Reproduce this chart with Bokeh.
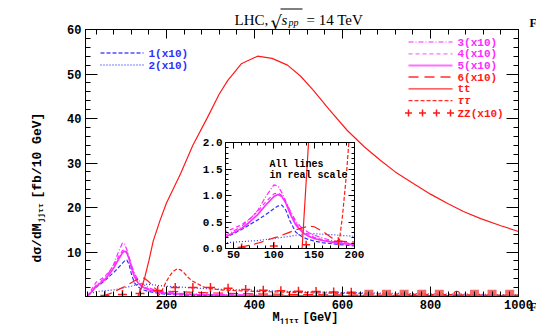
import math
import numpy as np
from bokeh.plotting import figure
from bokeh.models import Range1d, LinearAxis, FixedTicker, NumeralTickFormatter
from bokeh.layouts import column
from bokeh.embed import file_html
from bokeh.resources import INLINE
from bokeh.core.properties import value

# ---------------- data (real scale) ----------------
x_lo = [20, 40, 50, 60, 70, 80, 90, 100, 105, 110, 115, 120, 127, 135, 143, 150, 160, 172, 180,
        200, 250, 300, 400, 500, 600, 800, 1000]
s1 = [0, 0.21, 0.28, 0.36, 0.45, 0.54, 0.64, 0.75, 0.80, 0.82, 0.72, 0.52, 0.31, 0.22, 0.17, 0.14,
      0.11, 0.09, 0.075, 0.05, 0.03, 0.02, 0.012, 0.008, 0.005, 0.003, 0.002]
s2 = [0.04, 0.11, 0.12, 0.13, 0.14, 0.15, 0.17, 0.19, 0.20, 0.21, 0.22, 0.23, 0.25, 0.27, 0.28, 0.28,
      0.27, 0.26, 0.25, 0.23, 0.20, 0.17, 0.14, 0.11, 0.09, 0.06, 0.04]
s3 = [0, 0.25, 0.33, 0.42, 0.55, 0.72, 0.98, 1.20, 1.18, 1.05, 0.88, 0.72, 0.52, 0.38, 0.30, 0.25,
      0.20, 0.15, 0.12, 0.09, 0.06, 0.045, 0.03, 0.02, 0.015, 0.01, 0.006]
s4 = [0, 0.32, 0.38, 0.45, 0.56, 0.70, 0.88, 1.03, 1.05, 1.00, 0.88, 0.70, 0.48, 0.34, 0.26, 0.21,
      0.17, 0.13, 0.11, 0.08, 0.05, 0.04, 0.025, 0.018, 0.013, 0.008, 0.005]
s5 = [0, 0.22, 0.30, 0.38, 0.50, 0.64, 0.82, 0.98, 1.02, 0.98, 0.85, 0.66, 0.45, 0.31, 0.23, 0.19,
      0.15, 0.12, 0.10, 0.07, 0.045, 0.035, 0.022, 0.015, 0.011, 0.007, 0.004]
s6 = [0, 0, 0, 0.03, 0.06, 0.10, 0.15, 0.20, 0.22, 0.25, 0.28, 0.31, 0.35, 0.39, 0.42, 0.41,
      0.33, 0.20, 0.14, 0.12, 0.10, 0.08, 0.06, 0.045, 0.035, 0.02, 0.012]

x_tt = [135, 143, 150, 160, 170, 185, 200, 232, 260, 293, 320, 339, 370, 407, 440, 475, 505, 534,
        570, 611, 650, 686, 720, 761, 800, 839, 875, 914, 960, 1000]
tt = [0, 2, 4, 8, 12.5, 17, 21, 27.6, 34, 40.2, 45.5, 48.5, 52.3, 54, 53.5, 52, 49.5, 46.3,
      42, 37.3, 33.6, 30.6, 28, 25.4, 23, 20.9, 19.1, 17.5, 15.9, 14.6]

x_tau = [180, 185, 190, 195, 200, 207, 215, 224, 232, 240, 250, 260, 270, 285, 320, 360, 400, 500,
         600, 700, 800, 900, 1000]
tau = [0, 0.6, 1.4, 2.4, 3.4, 4.6, 5.6, 6.2, 6.0, 5.3, 4.2, 3.4, 2.9, 2.1, 1.5, 1.3, 1.15, 0.9,
       0.7, 0.55, 0.45, 0.35, 0.3]

x_zz = [60, 100, 140, 180, 220, 260, 300, 340, 380, 420, 460, 500, 540, 580, 620]
zz = [0.02, 0.045, 0.07, 0.135, 0.2, 0.2, 0.2, 0.185, 0.16, 0.14, 0.13, 0.12, 0.11, 0.10, 0.095]
x_zz_sq = [660, 700, 740, 780, 820, 900, 940, 980]
zz_sq = [0.05, 0.05, 0.05, 0.05, 0.05, 0.05, 0.05, 0.05]
x_zz_o = [860]
zz_o = [0.05]

scale10 = 10  # the "(x10)" series are drawn ten times larger in the main panel

main_x_ticks = [200, 400, 600, 800, 1000]
main_y_ticks = [10, 20, 30, 40, 50, 60]
inset_x_ticks = [50, 100, 150, 200]
inset_y_ticks = [0, 0.5, 1.0, 1.5, 2.0]

legend_left = [("1(x10)", "4 2", 1.3, "bold"), ("2(x10)", "1 2", 1.3, "bold")]
legend_mag = [("3(x10)", "5 2 1 2", 1.3, "bold"), ("4(x10)", "4 3", 1.3, "bold"),
              ("5(x10)", "solid", 2.0, "bold")]
legend_red = [("6(x10)", "10 6", 1.3, "bold"), ("tt", "solid", 1.3, "bold"),
              ("ττ", "4 2", 1.3, "bold italic")]

# ---------------- style ----------------
BLUE = "#3030ff"
MAG = "#ff2aff"
RED = "#ff1a1a"
BLUE_L = "#5050ff"
MAG_L = "#ff70ff"
RED_L = "#ff3030"
MONO = "Liberation Mono"
SERIF = "Liberation Serif"

W, H = 536, 324
L, R, T, B = 85, 518, 29, 296
X0, X1, Y0, Y1 = 16, 1000, 0, 60

p = figure(width=W, height=H, x_range=Range1d(X0, X1), y_range=Range1d(Y0, Y1),
           output_backend="svg", toolbar_location=None, title=None,
           min_border_left=L, min_border_right=W - R, min_border_top=T, min_border_bottom=H - B)
p.frame_align = False
p.grid.visible = False
p.outline_line_color = "black"
p.outline_line_width = 1
p.background_fill_color = "white"
p.border_fill_color = "white"


def style_axis(ax, major, minor, labels=True, size="12px", tin=10, tmin=5):
    ax.ticker = FixedTicker(ticks=major, minor_ticks=minor)
    ax.major_tick_in = tin
    ax.major_tick_out = 0
    ax.minor_tick_in = tmin
    ax.minor_tick_out = 0
    ax.axis_line_color = "black"
    ax.major_tick_line_color = "black"
    ax.minor_tick_line_color = "black"
    ax.major_label_text_font = MONO
    ax.major_label_text_font_style = "bold"
    if labels:
        ax.major_label_text_color = "black"
        ax.major_label_text_font_size = size
        ax.major_label_standoff = 3
    else:
        ax.major_label_text_color = None
        ax.major_label_text_font_size = "1px"
        ax.major_label_standoff = 0


style_axis(p.xaxis[0], main_x_ticks, list(range(20, 1001, 20)))
style_axis(p.yaxis[0], main_y_ticks, list(range(0, 61, 2)), tin=12)
p.yaxis[0].major_label_standoff = 4
top_ax = LinearAxis()
style_axis(top_ax, main_x_ticks, list(range(40, 1001, 40)), labels=False, tin=9, tmin=5)
p.add_layout(top_ax, "above")
right_ax = LinearAxis()
style_axis(right_ax, main_y_ticks, list(range(0, 61, 2)), labels=False, tin=12)
p.add_layout(right_ax, "right")

# ---------------- main curves ----------------
a = lambda s, k=1: (np.array(s) * k).tolist()
p.line(x_lo, a(s1, scale10), line_color=BLUE, line_dash="4 2", line_width=1.2)
p.line(x_lo, a(s2, scale10), line_color=BLUE, line_dash="1 2", line_width=1.2)
p.line(x_lo, a(s3, scale10), line_color=MAG, line_dash="5 2 1 2", line_width=1.2)
p.line(x_lo, a(s4, scale10), line_color=MAG, line_dash="4 3", line_width=1.2)
p.line(x_lo, a(s5, scale10), line_color=MAG, line_width=1.6)
p.line(x_lo, a(s6, scale10), line_color=RED, line_dash="10 5", line_width=1.2)
p.line(x_tt, tt, line_color=RED, line_width=1.2)
p.line(x_tau, tau, line_color=RED, line_dash="4 2", line_width=1.2)
p.scatter(x_zz, a(zz, scale10), marker="cross", size=9, line_color=RED, line_width=1.5)
p.scatter(x_zz_sq, a(zz_sq, scale10), marker="square", size=9, fill_color="#f05050",
          fill_alpha=0.85, line_color=None)
p.scatter(x_zz_o, a(zz_o, scale10), marker="circle", size=6, fill_color=None,
          line_color=RED, line_width=1.2)

# ---------------- inset ----------------
Li, Ri, Ti, Bi = 225, 354, 142, 248
IX0, IX1, IY0, IY1 = 40, 200, 0, 2
iml, imr, imt, imb = 30, 12, 7, 18
inset = figure(width=iml + (Ri - Li) + imr, height=imt + (Bi - Ti) + imb,
               x_range=Range1d(IX0, IX1), y_range=Range1d(IY0, IY1), output_backend="svg",
               toolbar_location=None, title=None, min_border_left=iml, min_border_right=imr,
               min_border_top=imt, min_border_bottom=imb,
               styles={"position": "absolute", "left": f"{Li - iml}px",
                       "top": f"{Ti - imt}px", "z-index": "5"})
inset.frame_align = False
inset.background_fill_alpha = 0
inset.border_fill_alpha = 0
inset.grid.visible = False
inset.outline_line_color = "black"
style_axis(inset.xaxis[0], inset_x_ticks, list(range(40, 201, 10)), size="11px", tin=6, tmin=3)
style_axis(inset.yaxis[0], inset_y_ticks, [i / 10 for i in range(0, 21)], size="11px",
           tin=6, tmin=3)
inset.xaxis[0].major_label_standoff = 2
inset.yaxis[0].formatter = NumeralTickFormatter(format="0.0")
it = LinearAxis()
style_axis(it, inset_x_ticks, list(range(40, 201, 10)), labels=False, tin=6, tmin=3)
inset.add_layout(it, "above")
ir = LinearAxis()
style_axis(ir, inset_y_ticks, [i / 10 for i in range(0, 21)], labels=False, tin=6, tmin=3)
inset.add_layout(ir, "right")

inset.line(x_lo, s1, line_color=BLUE, line_dash="4 2", line_width=1.2)
inset.line(x_lo, s2, line_color=BLUE, line_dash="1 2", line_width=1.2)
inset.line(x_lo, s3, line_color=MAG, line_dash="5 2 1 2", line_width=1.2)
inset.line(x_lo, s4, line_color=MAG, line_dash="4 3", line_width=1.2)
inset.line(x_lo, s5, line_color=MAG, line_width=1.6)
inset.line(x_lo, s6, line_color=RED, line_dash="10 5", line_width=1.2)
inset.line(x_tt, tt, line_color=RED, line_width=1.2)
inset.line(x_tau, tau, line_color=RED, line_dash="4 2", line_width=1.2)
inset.scatter(x_zz, zz, marker="cross", size=8, line_color=RED, line_width=1.5)


def dxi(px):
    return IX0 + (px - Li) * (IX1 - IX0) / (Ri - Li)


def dyi(py):
    return IY0 + (Bi - py) * (IY1 - IY0) / (Bi - Ti)


for txt, py in (("All lines", 164), ("in real scale", 175)):
    inset.text(x=[dxi(269)], y=[dyi(py)], text=[txt], text_font=value(MONO),
               text_font_size="10px", text_font_style="bold", text_baseline="middle",
               text_color="black")

# ---------------- overlay for texts outside the frame and the legends ----------------
ov = figure(width=W, height=H, x_range=Range1d(0, W), y_range=Range1d(0, H),
            output_backend="svg", toolbar_location=None, title=None, min_border=0,
            x_axis_location=None, y_axis_location=None,
            styles={"position": "absolute", "left": "0px", "top": "0px", "z-index": "6"})
ov.frame_align = False
ov.background_fill_alpha = 0
ov.border_fill_alpha = 0
ov.outline_line_color = None
ov.grid.visible = False


def t(px, py, text, size, font=MONO, style="bold", color="black", align="left",
      baseline="alphabetic", angle=0.0):
    ov.text(x=[px], y=[H - py], text=[text], text_font=value(font),
            text_font_size=f"{size}px", text_font_style=style, text_color=color,
            text_align=align, text_baseline=baseline, angle=angle)


# title
t(234, 19, "LHC,", 15, SERIF, "normal")
t(270, 22, "√", 18, "DejaVu Serif", "normal")
ov.segment(x0=[280], y0=[H - 8.5], x1=[302], y1=[H - 8.5], line_color="black", line_width=1)
t(281, 19, "s", 15, SERIF, "italic")
t(288, 22, "pp", 10, SERIF, "italic")
t(306, 19, "= 14 TeV", 15, SERIF, "normal")
t(529, 22, "F", 12, SERIF, "bold")
t(529, 306, "F", 12, SERIF, "bold")

# axis titles
up = math.pi / 2
t(37, 262, "dσ/dM", 13, angle=up)
t(40, 222, "jjττ", 8, angle=up)
t(37, 198, "[fb/10 GeV]", 13, angle=up)
t(272, 317, "M", 12)
t(279, 320, "jjττ", 8)
t(302, 317, "[GeV]", 12)


# legends
def legend_block(rows, x_line0, x_line1, x_text, y_first, dy_row, line_color, text_color):
    for i, (label, dash, lw, style) in enumerate(rows):
        yy = H - (y_first + i * dy_row) + 0.5
        ov.line(x=[x_line0, x_line1], y=[yy, yy], line_color=line_color, line_dash=dash,
                line_width=lw)
        t(x_text, y_first + i * dy_row, label, 11, style=style, color=text_color,
          baseline="middle")


legend_block(legend_left, 100, 143, 148, 53, 12, BLUE_L, BLUE)
legend_block(legend_mag, 408, 452, 457, 42, 11.8, MAG_L, MAG)
legend_block(legend_red, 408, 452, 457, 77, 11.8, RED_L, RED)
zz_row_y = 113
ov.scatter(x=[408 + 14 * k for k in range(4)], y=[H - zz_row_y + 0.5] * 4, marker="cross",
           size=7, line_color=RED, line_width=1.5)
t(457, zz_row_y, "ZZ(x10)", 11, color=RED, baseline="middle")

root = column(p, inset, ov)
open("out.html", "w").write(file_html(root, INLINE))
